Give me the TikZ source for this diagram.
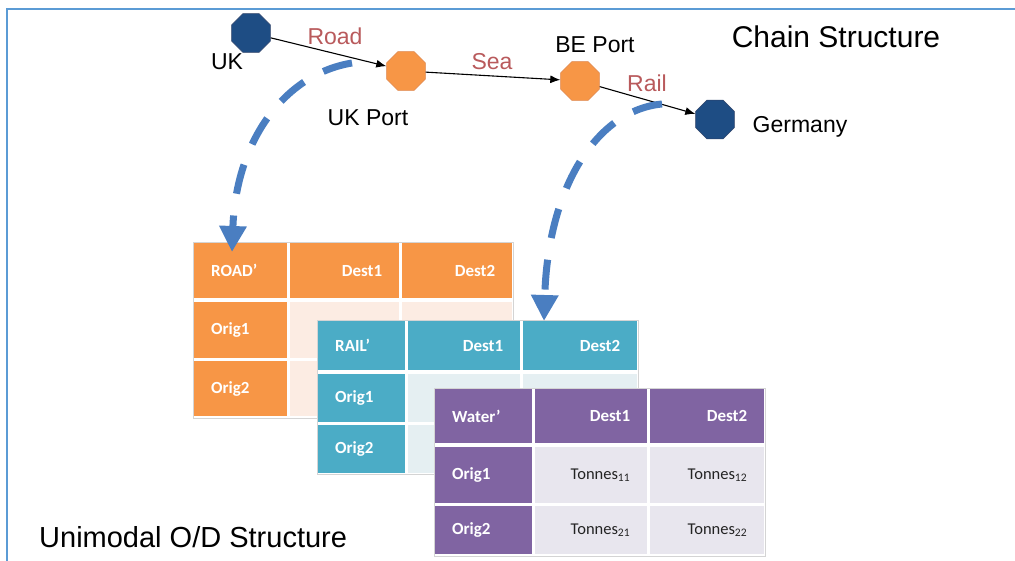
\documentclass[tikz,border=0pt]{standalone}
\usepackage{fontspec}
\setmainfont{Liberation Sans}
\newfontfamily\cellfont{Carlito}
\usetikzlibrary{shapes.geometric,arrows.meta}
\definecolor{frameblue}{RGB}{91,155,213}
\definecolor{navy}{RGB}{30,77,132}
\definecolor{navyedge}{RGB}{45,65,105}
\definecolor{portor}{RGB}{247,150,70}
\definecolor{portedge}{RGB}{222,132,72}
\definecolor{modered}{RGB}{185,90,92}
\definecolor{arcblue}{RGB}{74,126,193}
\definecolor{roador}{RGB}{247,150,70}
\definecolor{roadbg}{RGB}{252,236,227}
\definecolor{railteal}{RGB}{75,172,198}
\definecolor{railbg}{RGB}{229,239,242}
\definecolor{waterpur}{RGB}{128,100,162}
\definecolor{waterbg}{RGB}{232,230,238}
\definecolor{tblborder}{RGB}{212,212,212}
\definecolor{celltext}{RGB}{35,35,35}
\begin{document}
\begin{tikzpicture}[x=1pt,y=-1pt,
  oct/.style={regular polygon, regular polygon sides=8, minimum size=42pt, inner sep=0pt, line width=0.6pt},
  lbl/.style={font=\fontsize{23}{27}\selectfont, anchor=base, inner sep=0pt},
  modelbl/.style={lbl, text=modered},
  title/.style={font=\fontsize{30}{34}\selectfont, anchor=base, inner sep=0pt},
  edge/.style={line width=1.1pt, -{Latex[length=10pt,width=8pt]}},
  arc/.style={arcblue, line width=7pt, dash pattern=on 30pt off 22pt, -{Triangle[length=26pt,width=26pt]}},
  tbl/.style={rectangle, draw=tblborder, fill=white, line width=1pt, inner sep=0pt, anchor=north west},
  tcell/.style={rectangle, inner ysep=0pt, inner xsep=17pt, anchor=north west, font=\cellfont\fontsize{17}{20}\selectfont\bfseries, text=white},
  bcell/.style={rectangle, inner ysep=0pt, inner xsep=17pt, anchor=north west, font=\cellfont\fontsize{16.5}{20}\selectfont, text=celltext}
]
\useasboundingbox (0,0) rectangle (1015,561);
\fill[white] (0,0) rectangle (1015,561);
% frame
\coordinate (ftl) at (7,9);
\coordinate (ftr) at (1015,9);
\coordinate (fbl) at (7,561);
\draw[frameblue, line width=2pt] (fbl) -- (ftl) -- (ftr);

% titles
\node[title] (chain) at (836,48) {Chain Structure};
\node[font=\fontsize{29}{33}\selectfont, anchor=base west, inner sep=0pt] (uni) at (39,547) {Unimodal O/D Structure};

% chain nodes
\node[oct, fill=navy, draw=navyedge] (uk) at (251,33) {};
\node[oct, fill=portor, draw=portedge] (ukport) at (406,71) {};
\node[oct, fill=portor, draw=portedge] (beport) at (580,81) {};
\node[oct, fill=navy, draw=navyedge] (de) at (715,119.5) {};

\node[lbl] (uklbl) at (227,70) {UK};
\node[lbl] (ukportlbl) at (368,126) {UK Port};
\node[lbl] (beportlbl) at (595,53) {BE Port};
\node[lbl] (delbl) at (800,133) {Germany};

\draw[edge] (uk) -- (ukport);
\draw[edge] (ukport) -- (beport);
\draw[edge] (beport) -- (de);
\node[modelbl] (road) at (335,45) {Road};
\node[modelbl] (sea) at (492,70) {Sea};
\node[modelbl] (rail) at (647,92) {Rail};

% ROAD table
\node[tbl, minimum width=320pt, minimum height=176pt] (roadtbl) at (193,242) {};
\node[tcell, fill=roador, text width=59pt, minimum height=55pt, align=left] (rh1) at (194,243) {ROAD’};
\node[tcell, fill=roador, text width=75pt, minimum height=55pt, align=right] (rh2) at (290,243) {Dest1};
\node[tcell, fill=roador, text width=76pt, minimum height=55pt, align=right] (rh3) at (402,243) {Dest2};
\node[tcell, fill=roador, text width=59pt, minimum height=56pt, align=left] (r1a) at (194,302) {Orig1};
\node[tcell, fill=roadbg, text width=75pt, minimum height=56pt] (r1b) at (290,302) {};
\node[tcell, fill=roadbg, text width=76pt, minimum height=56pt] (r1c) at (402,302) {};
\node[tcell, fill=roador, text width=59pt, minimum height=55pt, align=left] (r2a) at (194,361) {Orig2};
\node[tcell, fill=roadbg, text width=75pt, minimum height=55pt] (r2b) at (290,361) {};
\node[tcell, fill=roadbg, text width=76pt, minimum height=55pt] (r2c) at (402,361) {};

% RAIL table
\node[tbl, minimum width=321pt, minimum height=154pt] (railtbl) at (317,320) {};
\node[tcell, fill=railteal, text width=53pt, minimum height=49pt, align=left] (lh1) at (318,321) {RAIL’};
\node[tcell, fill=railteal, text width=78pt, minimum height=49pt, align=right] (lh2) at (408,321) {Dest1};
\node[tcell, fill=railteal, text width=80pt, minimum height=49pt, align=right] (lh3) at (523,321) {Dest2};
\node[tcell, fill=railteal, text width=53pt, minimum height=48pt, align=left] (l1a) at (318,374) {Orig1};
\node[tcell, fill=railbg, text width=78pt, minimum height=48pt] (l1b) at (408,374) {};
\node[tcell, fill=railbg, text width=80pt, minimum height=48pt] (l1c) at (523,374) {};
\node[tcell, fill=railteal, text width=53pt, minimum height=48pt, align=left] (l2a) at (318,425) {Orig2};
\node[tcell, fill=railbg, text width=78pt, minimum height=48pt] (l2b) at (408,425) {};
\node[tcell, fill=railbg, text width=80pt, minimum height=48pt] (l2c) at (523,425) {};

% Water table
\node[tbl, minimum width=331pt, minimum height=168pt] (watertbl) at (434,388) {};
\node[tcell, fill=waterpur, text width=63pt, minimum height=54pt, align=left] (wh1) at (435,389) {Water’};
\node[tcell, fill=waterpur, text width=78pt, minimum height=54pt, align=right] (wh2) at (535,389) {Dest1};
\node[tcell, fill=waterpur, text width=80pt, minimum height=54pt, align=right] (wh3) at (650,389) {Dest2};
\node[tcell, fill=waterpur, text width=63pt, minimum height=56pt, align=left] (w1a) at (435,447) {Orig1};
\node[bcell, fill=waterbg, text width=78pt, minimum height=56pt, align=right] (w1b) at (535,447) {Tonnes\textsubscript{11}};
\node[bcell, fill=waterbg, text width=80pt, minimum height=56pt, align=right] (w1c) at (650,447) {Tonnes\textsubscript{12}};
\node[tcell, fill=waterpur, text width=63pt, minimum height=48pt, align=left] (w2a) at (435,506) {Orig2};
\node[bcell, fill=waterbg, text width=78pt, minimum height=48pt, align=right] (w2b) at (535,506) {Tonnes\textsubscript{21}};
\node[bcell, fill=waterbg, text width=80pt, minimum height=48pt, align=right] (w2c) at (650,506) {Tonnes\textsubscript{22}};

% dashed arcs
\coordinate (a1s) at (352,63);
\coordinate (a1e) at (232,252);
\coordinate (a2s) at (662,104);
\coordinate (a2e) at (544,321);
\draw[arc] (a1s) .. controls (285,74) and (236,140) .. (a1e);
\draw[arc] (a2s) .. controls (598,110) and (548,185) .. (a2e);
\end{tikzpicture}
\end{document}
